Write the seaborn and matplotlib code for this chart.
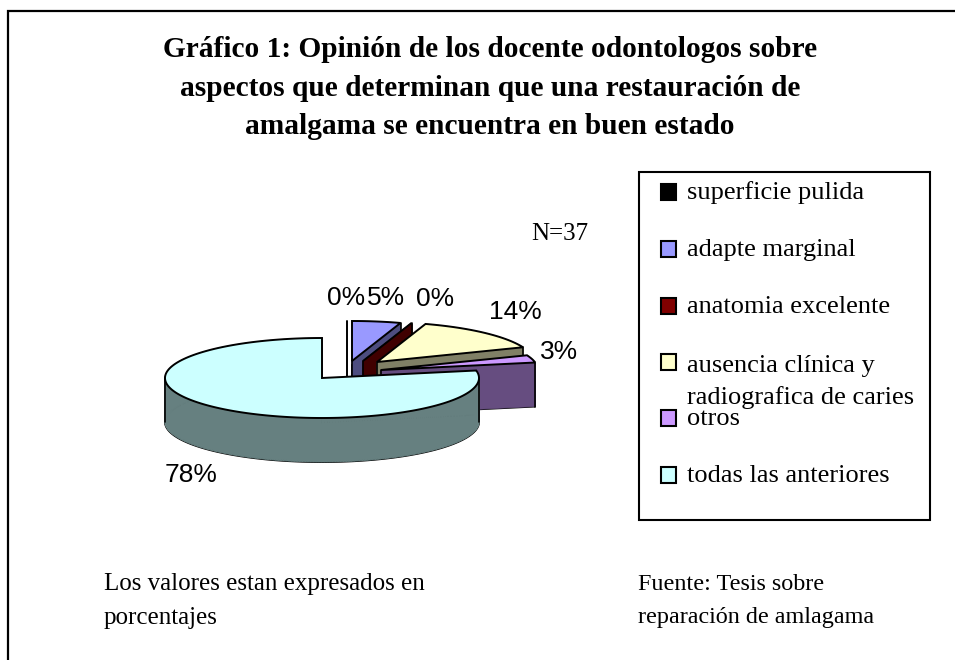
"""Gráfico 1: exploded 3D-look pie of docente opinions, drawn in pixel coords."""
import numpy as np
import matplotlib
matplotlib.use("Agg")
import matplotlib.pyplot as plt
from matplotlib.patches import Polygon, Rectangle
import seaborn as sns

categories = ["superficie pulida", "adapte marginal", "anatomia excelente",
              "ausencia clínica y\nradiografica de caries", "otros", "todas las anteriores"]
values = [0, 5, 0, 14, 3, 78]
pct_labels = ["0%", "5%", "0%", "14%", "3%", "78%"]
colors = ["#000000", "#9999FF", "#800000", "#FFFFCC", "#CC99FF", "#CCFFFF"]

title = ("Gráfico 1: Opinión de los docente odontologos sobre\n"
         "aspectos que determinan que una restauración de\n"
         "amalgama se encuentra en buen estado")
note_left = "Los valores estan expresados en\nporcentajes"
note_right = "Fuente: Tesis sobre\nreparación de amlagama"
n_label = "N=37"

# layout, in pixels
RX, RY, DEPTH = 157, 40, 44
CENTERS = [(347, 361), (352, 361), (363, 361), (377, 362), (381, 370), (322, 378)]
LABEL_POS = [(346, 298), (386, 298), (435, 299), (515, 312), (559, 352), (191, 475)]
LEGEND_Y = [192, 249, 306, 362, 418, 475]
SERIF = "Liberation Serif"
SANS = "Liberation Sans"

sns.set_theme(style="white")
palette = sns.color_palette(colors)

fig = plt.figure(figsize=(9.55, 6.6), dpi=100)
ax = fig.add_axes([0, 0, 1, 1])
ax.set_xlim(0, 955)
ax.set_ylim(660, 0)
ax.axis("off")

# outer frame: only the top and left edges are inside the picture
ax.plot([7.5, 7.5, 955], [660, 10.5, 10.5], color="black", lw=1.6, solid_joinstyle="miter")


def draw_slice(center, start, stop, color, z):
    # angles are clockwise from 12 o'clock, as fractions of the full circle
    th = np.linspace(start, stop, max(2, int((stop - start) * 360) + 2)) * 2 * np.pi
    cx, cy = center
    rim = np.column_stack([cx + RX * np.sin(th), cy - RY * np.cos(th)])
    top = np.vstack([[cx, cy], rim])
    low = top + [0, DEPTH]
    dark = tuple(c * 0.5 for c in color)
    # bottom outline first, walls on top of it leave the lower half of the line visible
    ax.add_patch(Polygon(low, closed=True, fc=dark, ec="black", lw=1.4, zorder=z))
    for i in range(len(top)):
        j = (i + 1) % len(top)
        quad = [top[i], top[j], low[j], low[i]]
        ax.add_patch(Polygon(quad, closed=True, fc=dark, ec=dark, lw=0.5, zorder=z + 0.1))
    # silhouette verticals, left and right extremes only
    for idx in {int(np.argmin(top[:, 0])), int(np.argmax(top[:, 0]))}:
        ax.plot([top[idx, 0]] * 2, [top[idx, 1], low[idx, 1]], color="black", lw=1.2, zorder=z + 0.2)
    ax.add_patch(Polygon(top, closed=True, fc=color, ec="black", lw=1.4, zorder=z + 0.3))


bounds = np.cumsum([0] + values) / 100
for k in range(len(values)):
    if values[k] == 0 and k == 0:
        # an empty slice with nothing to fill: only its edge shows
        cx, cy = CENTERS[k]
        ax.plot([cx, cx], [cy - RY, cy + DEPTH], color="black", lw=1.4, zorder=k + 1)
        continue
    draw_slice(CENTERS[k], bounds[k], bounds[k + 1], palette[k], k + 1)

for lab, (x, y) in zip(pct_labels, LABEL_POS):
    ax.text(x, y, lab, family=SANS, fontsize=19, ha="center", va="center", color="black", zorder=10)

ax.text(490, 88, title, family=SERIF, fontsize=21.2, weight="bold", ha="center", va="center",
        linespacing=1.55, color="black")
ax.text(560, 234, n_label, family=SERIF, fontsize=18, ha="center", va="center", color="black")
ax.text(104, 601, note_left, family=SERIF, fontsize=18, ha="left", va="center",
        linespacing=1.65, color="black")
ax.text(638, 601, note_right, family=SERIF, fontsize=17.4, ha="left", va="center",
        linespacing=1.7, color="black")

# legend, rows at an even pitch even where a label wraps
ax.add_patch(Rectangle((639, 172), 291, 348, fc="white", ec="black", lw=1.5))
for k, lab in enumerate(categories):
    y = LEGEND_Y[k]
    ax.add_patch(Rectangle((661, y - 8), 15, 16, fc=palette[k], ec="black", lw=1.5))
    text_y = y + 20 if "\n" in lab else y + 1
    ax.text(687, text_y, lab, family=SERIF, fontsize=19, ha="left", va="center",
            linespacing=1.5, color="black")

fig.savefig("out.png", dpi=100)
